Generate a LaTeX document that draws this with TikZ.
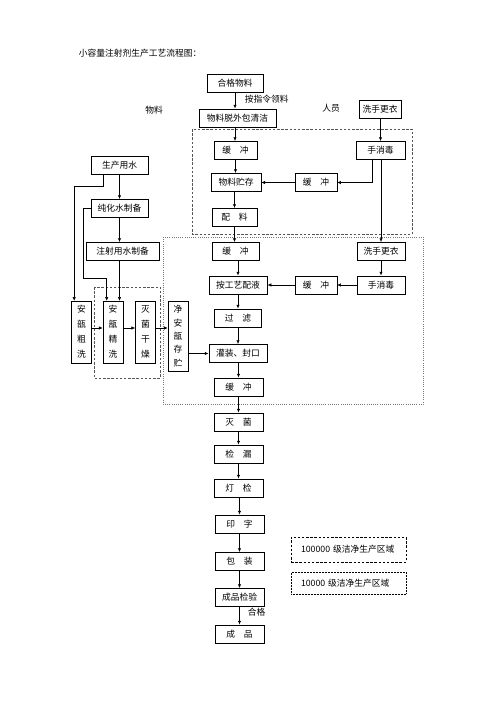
\documentclass[tikz,border=0pt]{standalone}
\usepackage{fontspec}
\setmainfont{Noto Sans CJK SC}
\usetikzlibrary{arrows.meta,calc}
\definecolor{zonegrey}{HTML}{555555}
\definecolor{dotgrey}{HTML}{777777}
\tikzset{
  procbox/.style={draw, line width=0.8pt, minimum height=22pt, inner sep=1pt,
    font=\fontsize{10.5}{12}\selectfont},
  tallbox/.style={draw, line width=0.8pt, minimum width=24pt, inner sep=1pt, align=center,
    font=\fontsize{10.5}{18}\selectfont},
  flow/.style={-{Latex[length=4.5pt,width=4pt]}, line width=0.6pt},
  wire/.style={line width=0.6pt},
  zone100k/.style={draw=zonegrey, dashed, dash pattern=on 3pt off 2pt, line width=0.6pt},
  zone10k/.style={draw=dotgrey, dotted, line width=0.6pt},
  legbox/.style={draw, line width=0.8pt, minimum width=138pt, text width=114pt, align=left,
    inner xsep=12pt, font=\fontsize{10.5}{12}\selectfont},
  note/.style={font=\fontsize{10.5}{12}\selectfont},
}
\begin{document}
\begin{tikzpicture}[x=1.2pt, y=-1.2pt]
  \useasboundingbox (0,0) rectangle (496,702);
  \fill[white] (0,0) rectangle (496,702);

  \node[note, anchor=west] (title) at (76,53) {小容量注射剂生产工艺流程图：};

  % 洁净区
  \draw[zone100k] (192,129) rectangle (412,234);
  \draw[zone10k] (163,237) rectangle (423,404);
  \draw[zone100k] (94,287) rectangle (160,378);

  % 物料
  \node[procbox, minimum width=67pt] (hgwl) at (235,83)    {合格物料};
  \node[procbox, minimum width=92pt] (wlqj) at (237.5,118) {物料脱外包清洁};
  \node[procbox, minimum width=52pt] (hc1)  at (235.5,150.5) {缓\hspace{1em}冲};
  \node[procbox, minimum width=60pt] (wlzc) at (236,182.5) {物料贮存};
  \node[procbox, minimum width=54pt] (pl)   at (234.5,217.5) {配\hspace{1em}料};
  \node[procbox, minimum width=56pt] (hc2)  at (235.5,251.5) {缓\hspace{1em}冲};
  \node[procbox, minimum width=70pt] (gypy) at (238,285)   {按工艺配液};
  \node[procbox, minimum width=56pt] (gl)   at (238,318)   {过\hspace{1em}滤};
  \node[procbox, minimum width=70pt] (gz)   at (238,353.5) {灌装、封口};
  \node[procbox, minimum width=59pt] (hc4)  at (238.5,387) {缓\hspace{1em}冲};
  \node[procbox, minimum width=59pt] (mj)   at (238.5,422) {灭\hspace{1em}菌};
  \node[procbox, minimum width=59pt] (jl)   at (238.5,454) {检\hspace{1em}漏};
  \node[procbox, minimum width=59pt] (dj)   at (238.5,488) {灯\hspace{1em}检};
  \node[procbox, minimum width=59pt] (yz)   at (239.5,524) {印\hspace{1em}字};
  \node[procbox, minimum width=59pt] (bz)   at (239.5,561.5) {包\hspace{1em}装};
  \node[procbox, minimum width=59pt] (cj)   at (239.5,597.5) {成品检验};
  \node[procbox, minimum width=59pt] (cp)   at (239.5,634) {成\hspace{1em}品};

  % 人员
  \node[procbox, minimum width=50pt] (xs1) at (380,109)   {洗手更衣};
  \node[procbox, minimum width=59pt] (sx1) at (380.5,150.5) {手消毒};
  \node[procbox, minimum width=50pt] (hcm) at (316,182.5) {缓\hspace{1em}冲};
  \node[procbox, minimum width=58pt] (xs2) at (381,251.5) {洗手更衣};
  \node[procbox, minimum width=58pt] (sx2) at (381,285)   {手消毒};
  \node[procbox, minimum width=50pt] (hcr) at (316,285)   {缓\hspace{1em}冲};

  % 水与安瓿
  \node[procbox, minimum width=68pt] (scys) at (119.5,165)   {生产用水};
  \node[procbox, minimum width=68pt] (chs)  at (119.5,208.5) {纯化水制备};
  \node[procbox, minimum width=88pt] (zss)  at (122.5,251.5) {注射用水制备};
  \node[tallbox, minimum height=74pt] (cx) at (81.5,332)  {安\\瓿\\粗\\洗};
  \node[tallbox, minimum height=74pt] (jx) at (113,332)   {安\\瓿\\精\\洗};
  \node[tallbox, minimum height=74pt] (mg) at (145.5,332) {灭\\菌\\干\\燥};
  \node[tallbox, minimum height=84pt, font=\fontsize{10.5}{16}\selectfont] (jc) at (178,336) {净\\安\\瓿\\存\\贮};

  % 标注
  \node[note, anchor=west] (lzl) at (242,99)  {按指令领料};
  \node[note] (wl) at (154,110) {物料};
  \node[note] (ry) at (331,108) {人员};
  \node[note, anchor=west] (hg) at (245,612) {合格};

  % 主流程
  \draw[flow] (hgwl.south) -- (hgwl.south |- wlqj.north);
  \draw[flow] (wlqj.south -| hgwl) -- (hgwl |- hc1.north);
  \draw[flow] (hc1.south) -- (hc1.south |- wlzc.north);
  \draw[flow] (wlzc.south -| pl) -- (pl.north);
  \draw[flow] (pl.south) -- (pl.south |- hc2.north);
  \draw[flow] (hc2.south -| gypy) -- (gypy.north);
  \draw[flow] (gypy.south) -- (gl.north);
  \draw[flow] (gl.south) -- (gz.north);
  \draw[flow] (gz.south -| hc4) -- (hc4.north);
  \draw[flow] (hc4.south) -- (mj.north);
  \draw[flow] (mj.south) -- (jl.north);
  \draw[flow] (jl.south) -- (dj.north);
  \draw[flow] (dj.south -| yz) -- (yz.north);
  \draw[flow] (yz.south) -- (bz.north);
  \draw[flow] (bz.south) -- (cj.north);
  \draw[flow] (cj.south) -- (cp.north);

  % 人员流程
  \draw[flow] (xs1.south -| sx1) -- (sx1.north);
  \draw[flow] ($(sx1.south)+(-8,0)$) |- (hcm.east);
  \draw[flow] (hcm.west) -- (wlzc.east);
  \draw[flow] (sx1.south -| xs2) -- (xs2.north);
  \draw[flow] (xs2.south) -- (sx2.north);
  \draw[flow] (sx2.west) -- (hcr.east);
  \draw[flow] (hcr.west) -- (gypy.east);

  % 制水与安瓿
  \draw[flow] (scys.south) -- (chs.north);
  \draw[flow] (chs.south) -- (chs.south |- zss.north);
  \draw[flow] (zss.south -| chs) -- (chs |- jx.north);
  \draw[flow] ($(scys.south west)+(12,0)$) -- ++(0,12) -| ($(cx.north west)+(3,0)$);
  \draw[flow] (chs.west) -- ++(-8,0) -- ++(0,70) -| ($(jx.north west)+(4,0)$);
  \draw[flow] ($(cx.east)+(0,-4)$) -- ($(jx.west)+(0,-4)$);
  \draw[flow] ($(jx.east)+(0,-4)$) -- ($(mg.west)+(0,-4)$);
  \draw[flow] ($(mg.east)+(0,-4)$) -- ($(mg.east -| jc.west)+(0,-4)$);
  \draw[flow] (gz.west -| jc.east) -- (gz.west);

  % 图例
  \node[legbox, zone100k, draw=black, minimum height=30pt] (lg1) at (348.5,549.5) {100000 级洁净生产区域};
  \node[legbox, densely dotted, minimum height=26pt] (lg2) at (348.5,583) {10000 级洁净生产区域};
\end{tikzpicture}
\end{document}
